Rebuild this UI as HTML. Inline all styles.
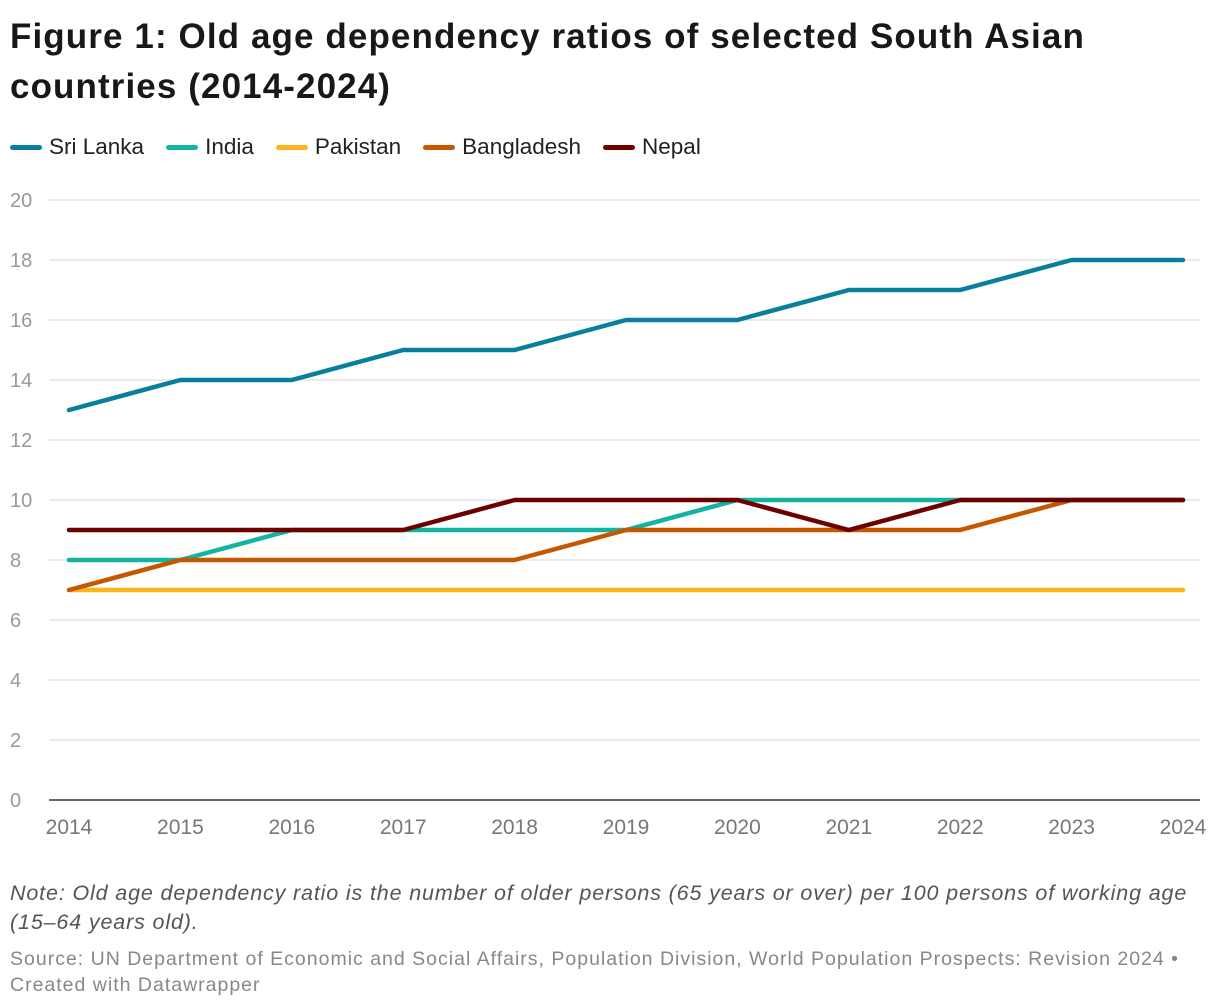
<!DOCTYPE html>
<html><head><meta charset="utf-8"><style>
body{margin:0;background:#fff;width:1220px;height:1008px;overflow:hidden;font-family:"Liberation Sans",sans-serif;}
#title{position:absolute;left:10px;top:12px;font-size:35px;font-weight:bold;line-height:50px;color:#181818;margin:0;width:1200px;white-space:nowrap;letter-spacing:1.1px}
#legend{position:absolute;left:10px;top:134px;font-size:22.5px;color:#222;display:flex;gap:22px}
.li{display:flex;align-items:center}
.sw{width:32px;height:5px;border-radius:3px;margin-right:7px}
#note{position:absolute;left:10px;top:879px;font-size:21.5px;font-style:italic;color:#555;line-height:29px;width:1210px;white-space:nowrap;letter-spacing:0.85px}
#src{position:absolute;left:10px;top:946px;font-size:19.5px;color:#888;line-height:26px;width:1210px;white-space:nowrap;letter-spacing:1px}
svg{position:absolute;left:0;top:0}
</style></head><body>
<h1 id="title">Figure 1: Old age dependency ratios of selected South Asian<br>countries (2014-2024)</h1>
<div id="legend"></div>
<svg id="chart" width="1220" height="1008"></svg>
<div id="note">Note: Old age dependency ratio is the number of older persons (65 years or over) per 100 persons of working age<br>(15–64 years old).</div>
<div id="src">Source: UN Department of Economic and Social Affairs, Population Division, World Population Prospects: Revision 2024 •<br>Created with Datawrapper</div>
<script>
const years=[2014,2015,2016,2017,2018,2019,2020,2021,2022,2023,2024];
const yTicks=[0,2,4,6,8,10,12,14,16,18,20];
const seriesNames=["Sri Lanka","India","Pakistan","Bangladesh","Nepal"];
const seriesColors=["#0a7f9b","#13b3a1","#fbb51a","#c45700","#6e0000"];
const sriLanka=[13,14,14,15,15,16,16,17,17,18,18];
const india=[8,8,9,9,9,9,10,10,10,10,10];
const pakistan=[7,7,7,7,7,7,7,7,7,7,7];
const bangladesh=[7,8,8,8,8,9,9,9,9,10,10];
const nepal=[9,9,9,9,10,10,10,9,10,10,10];
const seriesData=[sriLanka,india,pakistan,bangladesh,nepal];
const NS="http://www.w3.org/2000/svg";
const svg=document.getElementById('chart');
const x=i=>69+(1183-69)*(i/(years.length-1));
const y=v=>800-v*30;
function mk(t,a){const e=document.createElementNS(NS,t);for(const k in a)e.setAttribute(k,a[k]);svg.appendChild(e);return e;}
yTicks.forEach(v=>{
 const l=mk('line',{x1:49,x2:1200,y1:y(v),y2:y(v),stroke:v===0?'#333':'#e3e3e3','stroke-width':1.5});
 
 
 const t=mk('text',{x:10,y:y(v)+7,'font-size':20,fill:'#999'});t.textContent=v;
 
 
});
years.forEach((yr,i)=>{
 const t=mk('text',{x:x(i),y:834,'font-size':21,fill:'#777','text-anchor':'middle'});t.textContent=yr;
 
 
});
[2,1,3,4,0].forEach(s=>{
 const p=mk('polyline',{points:seriesData[s].map((v,i)=>x(i)+','+y(v)).join(' '),fill:'none',stroke:seriesColors[s],'stroke-width':4.5,'stroke-linejoin':'round','stroke-linecap':'round'});
 
 
});
const lg=document.getElementById('legend');
seriesNames.forEach((n,s)=>{
 const d=document.createElement('div');d.className='li';
 
 
 d.innerHTML='<span class="sw" style="background:'+seriesColors[s]+'"></span>'+n;
 lg.appendChild(d);
});
</script>
</body></html>
